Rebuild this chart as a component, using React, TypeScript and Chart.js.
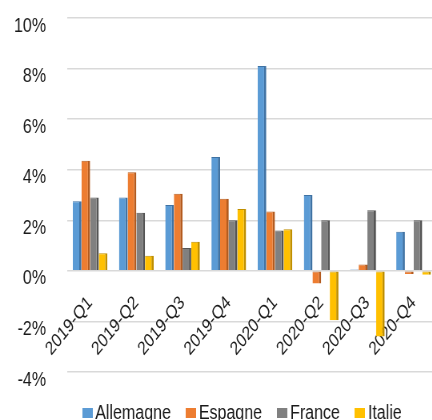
import React, { useEffect, useRef } from 'react';
import { Chart, registerables } from 'chart.js';

Chart.register(...registerables);

const categories = ['2019-Q1', '2019-Q2', '2019-Q3', '2019-Q4', '2020-Q1', '2020-Q2', '2020-Q3', '2020-Q4'];
const seriesNames = ['Allemagne', 'Espagne', 'France', 'Italie'];
const allemagne = [2.75, 2.9, 2.6, 4.5, 8.1, 3.0, 0.05, 1.55];
const espagne = [4.35, 3.9, 3.05, 2.85, 2.35, -0.5, 0.25, -0.12];
const france = [2.9, 2.3, 0.9, 2.0, 1.6, 2.0, 2.4, 2.0];
const italie = [0.7, 0.6, 1.15, 2.45, 1.65, -1.95, -2.6, -0.15];
const seriesValues = [allemagne, espagne, france, italie];
const colors = ['#5B9BD5', '#ED7D31', '#808080', '#FFC000'];
const sideColors = ['#3F72A3', '#B35B1F', '#555555', '#BF8F00'];

const yMin = -4;
const yMax = 10;
const yStep = 2;

// the reference picture is horizontally squeezed; draw wide and squeeze with CSS
const SQUEEZE = 0.8;
const CANVAS_W = 611;
const CANVAS_H = 433;

function makeLegendBox(color: string): HTMLCanvasElement {
  const c = document.createElement('canvas');
  c.width = 13;
  c.height = 10;
  const g = c.getContext('2d')!;
  g.fillStyle = color;
  g.fillRect(0, 0, 13, 10);
  return c;
}

export default function App() {
  const ref = useRef<HTMLCanvasElement>(null);

  useEffect(() => {
    if (!ref.current) return;
    const boxes = colors.map(makeLegendBox);
    const chart = new Chart(ref.current, {
      type: 'bar',
      data: {
        labels: categories,
        datasets: seriesNames.map((name, i) => ({
          label: name,
          data: seriesValues[i],
          backgroundColor: colors[i],
          borderColor: sideColors[i],
          borderWidth: { top: 1, right: 2.8, bottom: 0, left: 0 },
          borderSkipped: false,
          categoryPercentage: 0.75,
          barPercentage: 1.0,
        })),
      },
      options: {
        responsive: false,
        animation: false,
        devicePixelRatio: 1,
        layout: { padding: 0 },
        plugins: {
          tooltip: { enabled: false },
          legend: {
            position: 'bottom',
            labels: {
              usePointStyle: true,
              boxWidth: 0.01,
              boxHeight: 10,
              padding: 25,
              color: '#1a1a1a',
              font: { family: '"Liberation Sans", Arial, sans-serif', size: 20 },
              generateLabels: (c: any) =>
                Chart.defaults.plugins.legend.labels
                  .generateLabels(c)
                  .map((l: any, i: number) => ({ ...l, lineWidth: 0, strokeStyle: 'transparent', pointStyle: boxes[i] })),
            },
          },
        },
        scales: {
          x: {
            position: { y: 0 } as any,
            grid: { display: false },
            border: { display: false },
            ticks: {
              autoSkip: false,
              minRotation: 45,
              maxRotation: 45,
              padding: 13,
              color: '#1a1a1a',
              font: { family: '"Liberation Sans", Arial, sans-serif', size: 19 },
            },
            afterFit: (s: any) => {
              s.height = 0;
            },
          },
          x2: {
            position: 'bottom',
            display: true,
            grid: { display: false },
            ticks: { display: false },
            border: { display: false },
            afterFit: (s: any) => {
              s.height = 6;
            },
          },
          y: {
            min: yMin,
            max: yMax,
            ticks: {
              stepSize: yStep,
              padding: 6,
              labelOffset: 8,
              color: '#1a1a1a',
              font: { family: '"Liberation Sans", Arial, sans-serif', size: 20 },
              callback: (v: any) => `${v}%`,
            },
            grid: { color: '#d9d9d9', lineWidth: 1.5, tickLength: 20.25, tickColor: 'rgba(0,0,0,0)' },
            border: { display: false },
            afterFit: (s: any) => {
              s.width = 83.75;
            },
          },
          y2: {
            position: 'right',
            display: true,
            grid: { display: false },
            ticks: { display: false },
            border: { display: false },
            afterFit: (s: any) => {
              s.width = 65.4;
            },
          },
        },
      },
    } as any);
    return () => chart.destroy();
  }, []);

  return (
    <div style={{ position: 'fixed', left: 0, top: 0, width: 432, height: 420, overflow: 'hidden', background: '#ffffff' }}>
      <canvas
        ref={ref}
        width={CANVAS_W}
        height={CANVAS_H}
        style={{ width: CANVAS_W * SQUEEZE, height: CANVAS_H, display: 'block' }}
      />
    </div>
  );
}
